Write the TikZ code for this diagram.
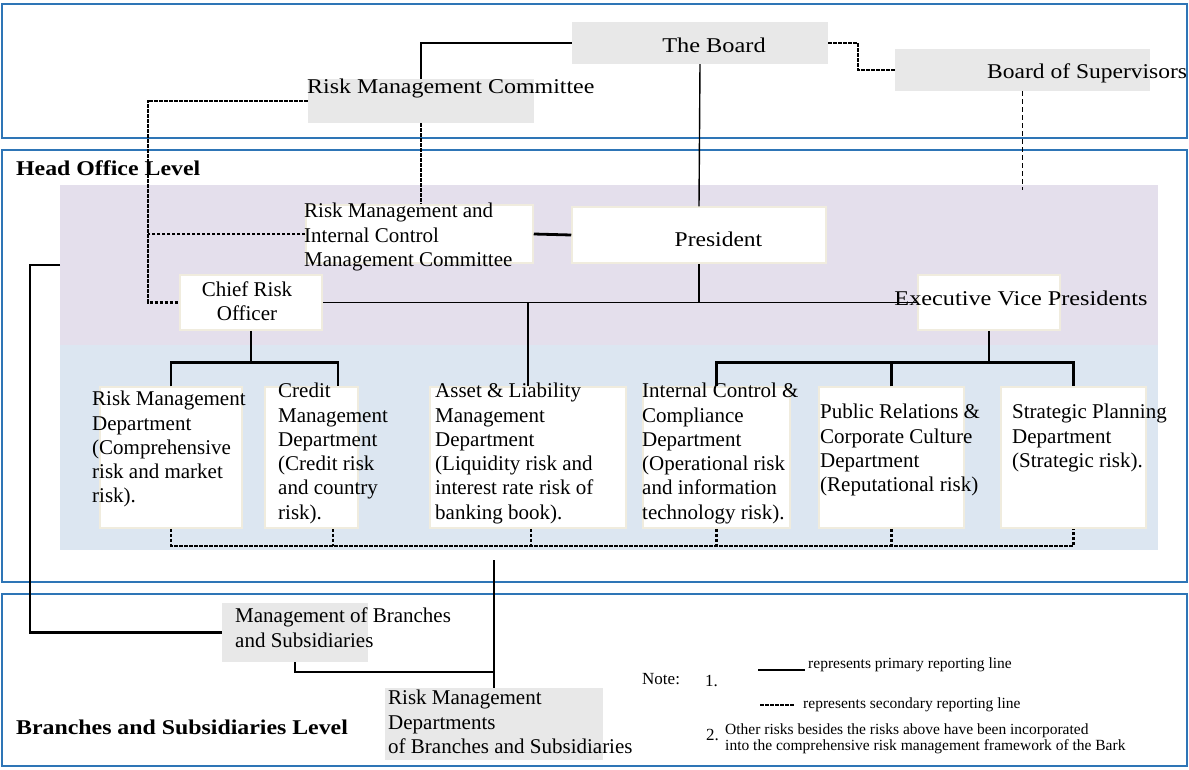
\documentclass[tikz,border=0pt]{standalone}
\usepackage{fontspec}
\setmainfont{Liberation Serif}
\definecolor{frameblue}{RGB}{46,117,182}
\definecolor{lav}{RGB}{228,223,236}
\definecolor{paleblue}{RGB}{220,230,241}
\definecolor{boxgray}{RGB}{232,232,232}
\definecolor{boxedge}{RGB}{240,236,222}
\newcommand{\xwide}[2]{\scalebox{#1}[1]{#2}}
\begin{document}
\begin{tikzpicture}[x=1pt,y=-1pt,
  graybox/.style={fill=boxgray,draw=none,inner sep=0pt},
  whitebox/.style={fill=white,draw=boxedge,line width=1.5pt,inner sep=0pt},
  txt/.style={inner sep=0pt,align=left,font=\fontsize{21}{24.3}\selectfont},
  lvl/.style={inner sep=0pt,anchor=west,font=\bfseries\fontsize{21}{24}\selectfont},
  notetxt/.style={inner sep=0pt,anchor=west,align=left,font=\fontsize{15.5}{16}\selectfont},
  prim/.style={line width=2.8pt},
  primthin/.style={line width=1.4pt},
  sec/.style={line width=2.4pt,dash pattern=on 3.5pt off 1.5pt},
  secthin/.style={line width=1.3pt,dash pattern=on 5pt off 3pt},
  frame/.style={draw=frameblue,line width=2.5pt}]
\useasboundingbox (0,0) rectangle (1189,769);
% level frames and backgrounds
\draw[frame] (2,4) rectangle (1187,138);
\draw[frame] (2,150) rectangle (1187,582);
\draw[frame] (2,594) rectangle (1187,766);
\fill[lav] (60,185) rectangle (1158,345);
\fill[paleblue] (60,345) rectangle (1158,550);
% boxes
\node[graybox,minimum width=256pt,minimum height=42pt] (board) at (700,43) {};
\node[graybox,minimum width=255pt,minimum height=42pt] (bos) at (1022.5,70) {};
\node[graybox,minimum width=226pt,minimum height=44pt] (rmc) at (421,101) {};
\node[whitebox,minimum width=227pt,minimum height=58pt] (rmicmc) at (419.5,234) {};
\node[whitebox,minimum width=254pt,minimum height=56pt] (pres) at (699,235) {};
\node[whitebox,minimum width=142pt,minimum height=55pt] (cro) at (251,302.5) {};
\node[whitebox,minimum width=142pt,minimum height=55pt] (evp) at (989,302.5) {};
\node[whitebox,minimum width=142pt,minimum height=141pt] (rmd) at (171,457.5) {};
\node[whitebox,minimum width=93pt,minimum height=141pt] (cmd) at (311.5,457.5) {};
\node[whitebox,minimum width=196pt,minimum height=141pt] (alm) at (528,457.5) {};
\node[whitebox,minimum width=147pt,minimum height=141pt] (icc) at (716.5,457.5) {};
\node[whitebox,minimum width=145pt,minimum height=141pt] (pr) at (891.5,457.5) {};
\node[whitebox,minimum width=145pt,minimum height=141pt] (sp) at (1073.5,457.5) {};
\node[graybox,minimum width=146pt,minimum height=59pt] (mbs) at (295,632.5) {};
\node[graybox,minimum width=218pt,minimum height=72pt] (rmdb) at (494,724) {};
% free-end coordinates
\coordinate (bosend) at (1022.5,190);
\coordinate (dl) at (148,100);
\coordinate (dm) at (148,234);
\coordinate (lstart) at (60,265);
\coordinate (ltop) at (494,560);
\coordinate (junc) at (494,672);
% connectors
\draw[prim] (board.west) -| (rmc.north);
\draw[primthin] (board.south) -- (pres.north);
\draw[sec] (board.east) -- ++(30,0) |- (bos.west);
\draw[secthin] (bos.south) -- (bosend);
\draw[sec] (rmc.south) -- (rmc.south |- rmicmc.north);
\draw[sec] (rmc.west) -| (dl) -- (dl |- cro.west) -- (cro.west);
\draw[sec] (rmicmc.west) -- (dm);
\draw[prim] (rmicmc.east) -- (pres.west);
\draw[primthin] (pres.south) -- (pres.south |- cro.east) coordinate (pj);
\draw[primthin] (cro.east) -- (evp.west);
\draw[primthin] (alm.north |- cro.east) -- (alm.north);
\draw[prim] (cro.south) -- ++(0,32) coordinate (cj);
\draw[prim] (rmd.north) |- (cj) -| ([xshift=26.5pt]cmd.north);
\draw[prim] (evp.south) -- ++(0,32) coordinate (ej);
\draw[prim] (icc.north) |- (ej) -| (sp.north);
\draw[prim] (pr.north) -- (pr.north |- ej);
\draw[sec] (rmd.south) -- ++(0,17) coordinate (bl) -- (sp.south |- bl) -- (sp.south);
\draw[sec] ([xshift=21.5pt]cmd.south) -- ([xshift=21.5pt]cmd.south |- bl);
\draw[sec] ([xshift=3pt]alm.south) -- ([xshift=3pt]alm.south |- bl);
\draw[sec] (icc.south) -- (icc.south |- bl);
\draw[sec] (pr.south) -- (pr.south |- bl);
\draw[primthin] (ltop) -- (rmdb.north);
\draw[prim] (mbs.south) |- (junc);
\draw[prim] (lstart) -- (30,265) |- (mbs.west);
% texts
\node[txt] (boardtxt) at (714,45) {\xwide{1.16}{The Board}};
\node[txt,anchor=west] (bostxt) at (987,73) {\xwide{1.12}{Board of Supervisors}};
\node[txt,anchor=west] (rmctxt) at (307,88) {\xwide{1.14}{Risk Management Committee}};
\node[txt,anchor=north west] (rmicmctxt) at (304,203) {Risk Management and\\Internal Control\\Management Committee};
\node[txt] (prestxt) at (718.5,239) {\xwide{1.12}{President}};
\node[txt,align=center] (crotxt) at (247,301) {Chief Risk\\Officer};
\node[txt] (evptxt) at (1021,298) {\xwide{1.155}{Executive Vice Presidents}};
\node[txt,anchor=north west] (rmdtxt) at (92,391) {Risk Management\\Department\\(Comprehensive\\risk and market\\risk).};
\node[txt,anchor=north west] (cmdtxt) at (278,383) {Credit\\Management\\Department\\(Credit risk\\and country\\risk).};
\node[txt,anchor=north west] (almtxt) at (435,383) {Asset \& Liability\\Management\\Department\\(Liquidity risk and\\interest rate risk of\\banking book).};
\node[txt,anchor=north west] (icctxt) at (642,383) {Internal Control \&\\Compliance\\Department\\(Operational risk\\and information\\technology risk).};
\node[txt,anchor=north west] (prtxt) at (820,404) {Public Relations \&\\Corporate Culture\\Department\\(Reputational risk)};
\node[txt,anchor=north west] (sptxt) at (1012,404) {Strategic Planning\\Department\\(Strategic risk).};
\node[txt,anchor=north west] (mbstxt) at (235,608) {Management of Branches\\and Subsidiaries};
\node[txt,anchor=north west] (rmdbtxt) at (388,690) {Risk Management\\Departments\\of Branches and Subsidiaries};
\node[lvl] (holvl) at (16,168) {\xwide{1.135}{Head Office Level}};
\node[lvl] (bslvl) at (16,727) {\xwide{1.135}{Branches and Subsidiaries Level}};
% note
\node[inner sep=0pt,anchor=west,font=\fontsize{17}{18}\selectfont] (notelbl) at (642,679) {Note:};
\node[inner sep=0pt,anchor=west,font=\fontsize{17}{18}\selectfont] (n1) at (705,681) {1.};
\coordinate (lg1a) at (758,670);
\coordinate (lg1b) at (805,670);
\coordinate (lg2a) at (760,705);
\coordinate (lg2b) at (795,705);
\draw[primthin] (lg1a) -- (lg1b);
\draw[sec] (lg2a) -- (lg2b);
\node[notetxt] (lg1txt) at (808,665) {represents primary reporting line};
\node[notetxt] (lg2txt) at (803,705) {represents secondary reporting line};
\node[inner sep=0pt,anchor=west,font=\fontsize{17}{18}\selectfont] (n2) at (706,735) {2.};
\node[notetxt,anchor=north west] (n2txt) at (725,724) {Other risks besides the risks above have been incorporated\\into the comprehensive risk management framework of the Bark};
\end{tikzpicture}
\end{document}
